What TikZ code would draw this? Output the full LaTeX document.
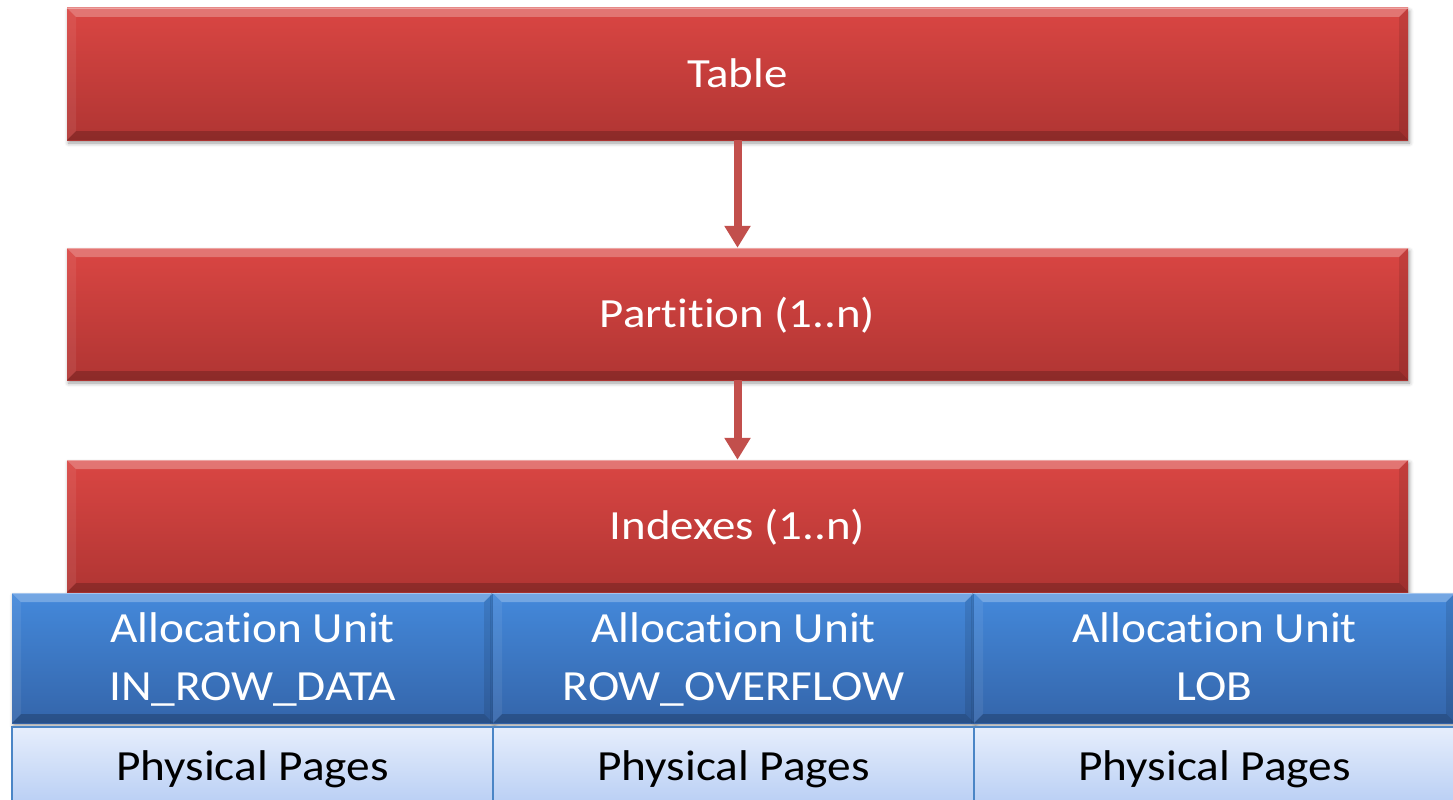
\documentclass[tikz,border=0pt]{standalone}
\usepackage{fontspec}
\setmainfont[RawFeature={-liga;-clig;-calt;-dlig}]{Carlito}
\usetikzlibrary{arrows.meta,shadows.blur}

\definecolor{redtop}{HTML}{DA4643}
\definecolor{redbot}{HTML}{B03533}
\definecolor{bluetop}{HTML}{4489DB}
\definecolor{bluebot}{HTML}{3465AA}
\definecolor{pagetop}{HTML}{E6EEFC}
\definecolor{pagebot}{HTML}{B8CEF4}
\definecolor{pageedge}{HTML}{4A85C6}
\definecolor{arrowred}{HTML}{C24F4C}

% slightly widened lettering
\newcommand\wide[1]{\scalebox{1.1}[1]{#1}}
\newcommand\wider[1]{\scalebox{1.13}[1]{#1}}

\begin{document}
\begin{tikzpicture}[x=1pt,y=-1pt,
  bevelled/.style={path picture={
    \def\pb{path picture bounding box}
    \fill[white,opacity=.26] (\pb.north west) -- (\pb.north east)
      -- ([shift={(-9pt,-9pt)}]\pb.north east) -- ([shift={(9pt,-9pt)}]\pb.north west) -- cycle;
    \fill[black,opacity=.20] (\pb.south west) -- (\pb.south east)
      -- ([shift={(-9pt,9pt)}]\pb.south east) -- ([shift={(9pt,9pt)}]\pb.south west) -- cycle;
    \fill[white,opacity=.07] (\pb.north west) -- ([shift={(9pt,-9pt)}]\pb.north west)
      -- ([shift={(9pt,9pt)}]\pb.south west) -- (\pb.south west) -- cycle;
    \fill[black,opacity=.10] (\pb.north east) -- ([shift={(-9pt,-9pt)}]\pb.north east)
      -- ([shift={(-9pt,9pt)}]\pb.south east) -- (\pb.south east) -- cycle;
    \draw[white,opacity=.35,line width=1.5pt] (\pb.north west) -- (\pb.north east);
  }},
  softshadow/.style={blur shadow={shadow xshift=1.5pt,shadow yshift=-3pt,
    shadow blur radius=4pt,shadow opacity=40}},
  levelbox/.style={rectangle,inner sep=0pt,minimum width=1341pt,minimum height=132pt,
    top color=redtop,bottom color=redbot,softshadow,bevelled,text=white,
    font=\fontsize{41.5}{49}\selectfont,text height=26pt,text depth=0pt},
  unitbox/.style={rectangle,inner sep=0pt,minimum width=481pt,minimum height=130pt,
    top color=bluetop,bottom color=bluebot,softshadow,bevelled,text=white,align=center,
    font=\fontsize{43}{58}\selectfont,text height=85pt,text depth=0pt},
  pagebox/.style={rectangle,inner sep=0pt,minimum width=481pt,minimum height=79pt,
    draw=pageedge,line width=2.5pt,top color=pagetop,bottom color=pagebot,text=black,
    font=\fontsize{43}{52}\selectfont,text height=27pt,text depth=0pt},
  flow/.style={draw=arrowred,line width=8pt,-{Triangle[width=25pt,length=22pt]}}
]
\useasboundingbox (0,0) rectangle (1453,800);

% hierarchy levels
\node[levelbox] (table)     at (737.5,74)  {\wider{Table}};
\node[levelbox] (partition) at (737.5,314) {\wider{Partition (1..n)}};
\node[levelbox] (indexes)   at (737.5,526) {\wider{Indexes (1..n)}};

% links between levels
\draw[flow] (table.south) -- (partition.north);
\draw[flow] (partition.south) -- (indexes.north);

% allocation units
\node[unitbox] (inrow)    at (252.5,658)  {\wide{Allocation Unit}\\\wide{IN\_ROW\_DATA}};
\node[unitbox] (overflow) at (733.5,658)  {\wide{Allocation Unit}\\\wide{ROW\_OVERFLOW}};
\node[unitbox] (lob)      at (1214.5,658) {\wide{Allocation Unit}\\\wide{LOB}};

% page strips
\node[pagebox] (pagesa) at (252.5,766.5)  {\wide{Physical Pages}};
\node[pagebox] (pagesb) at (733.5,766.5)  {\wide{Physical Pages}};
\node[pagebox] (pagesc) at (1214.5,766.5) {\wide{Physical Pages}};
\end{tikzpicture}
\end{document}
